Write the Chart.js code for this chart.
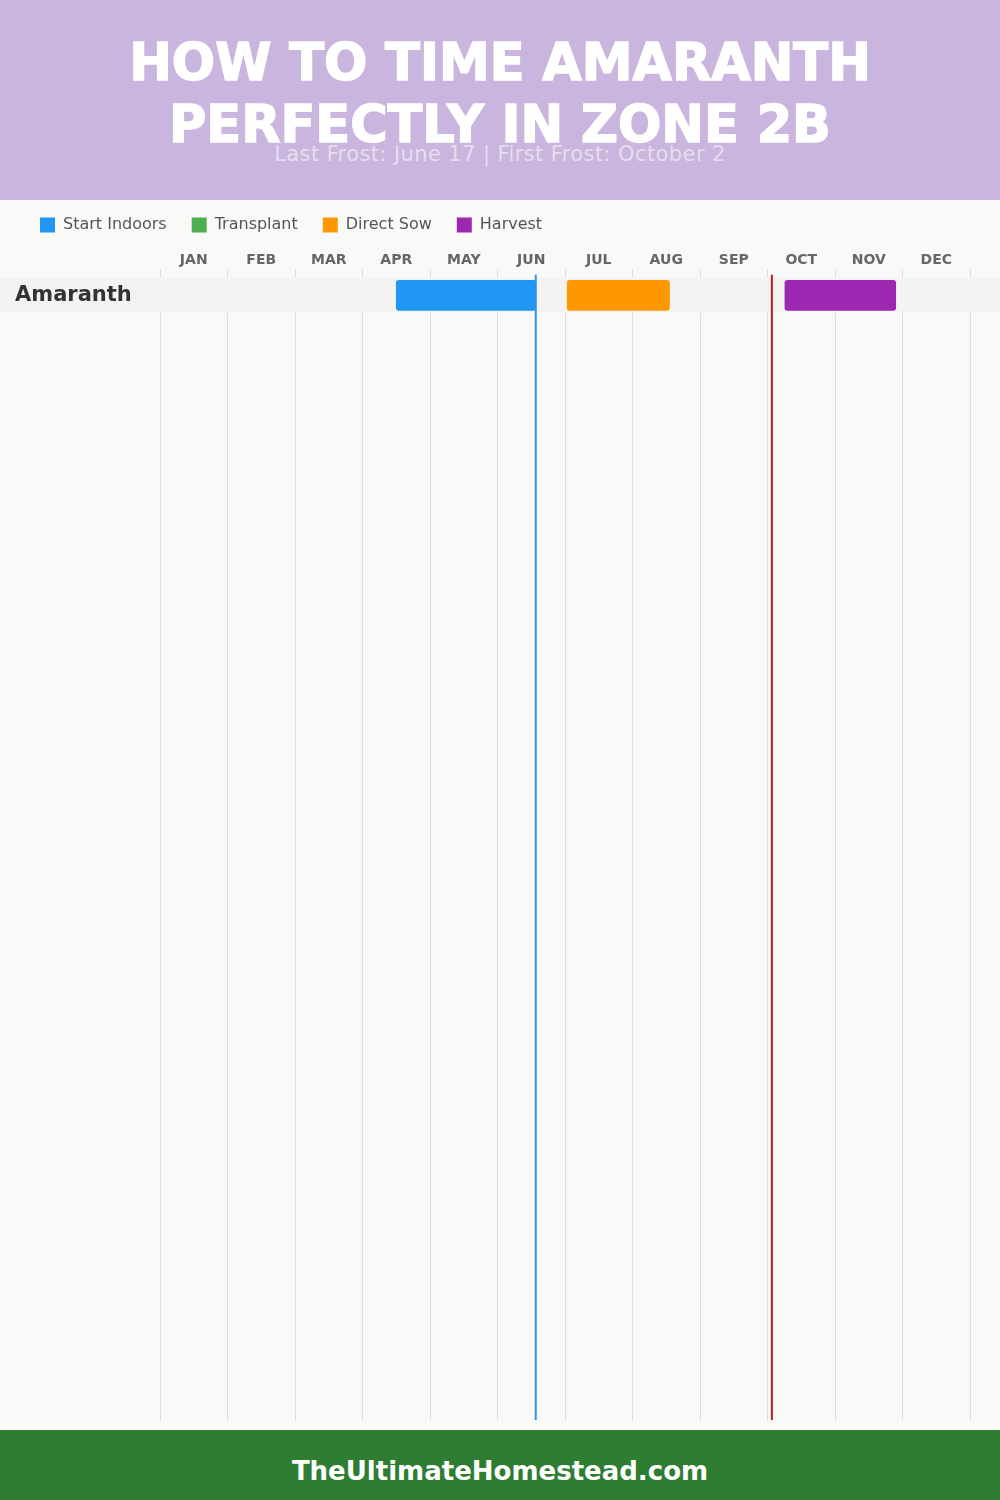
<!DOCTYPE html>
<html>
<head>
<meta charset="utf-8">
<script src="https://cdn.jsdelivr.net/npm/chart.js@4.4.1/dist/chart.umd.min.js"></script>
<style>
  html, body { margin: 0; padding: 0; }
  body { width: 1000px; height: 1500px; background: #F9F9F7; position: relative; overflow: hidden; font-family: "DejaVu Sans", sans-serif; }
  #header { position: absolute; left: 0; top: 0; width: 1000px; height: 200px; background: #C9B5DD; }
  #title { position: absolute; left: 0; top: 32px; width: 1000px; text-align: center; color: #fff; font-weight: bold; font-size: 51px; line-height: 62px; margin: 0; -webkit-text-stroke: 1.5px #fff; }
  #subtitle { position: absolute; left: 0; top: 141px; width: 1000px; text-align: center; color: rgba(255,255,255,0.55); font-size: 21px; letter-spacing: 0.4px; line-height: 26px; margin: 0; }
  #chartWrap { position: absolute; left: 0; top: 192px; width: 1000px; height: 1238px; }
  #footer { position: absolute; left: 0; top: 1430px; width: 1000px; height: 64px; padding-top: 6px; background: #2E7D32; color: #fff; font-weight: bold; font-size: 26px; line-height: 70px; text-align: center; }
</style>
</head>
<body>
<div id="header">
  <h1 id="title">HOW TO TIME AMARANTH<br>PERFECTLY IN ZONE 2B</h1>
  <p id="subtitle">Last Frost: June 17 | First Frost: October 2</p>
</div>
<div id="chartWrap"><canvas id="c" width="1000" height="1238"></canvas></div>
<div id="footer">TheUltimateHomestead.com</div>
<script>
// ---- data ----
const CROPS = ['Amaranth'];
const MONTHS = ['JAN','FEB','MAR','APR','MAY','JUN','JUL','AUG','SEP','OCT','NOV','DEC'];
const ACTIVITIES = ['Start Indoors', 'Transplant', 'Direct Sow', 'Harvest'];
const ACTIVITY_COLORS = ['#2196F3', '#4CAF50', '#FF9800', '#9C27B0'];
// [start, end] as MM-DD, one entry per crop (null = none)
const START_INDOORS = [['04-15', '06-17']];
const TRANSPLANT = [null];
const DIRECT_SOW = [['07-01', '08-17']];
const HARVEST = [['10-08', '11-27']];
const LAST_FROST = '06-17';
const FIRST_FROST = '10-02';

// ---- helpers ----
const DAYS_IN_MONTH = [31,28,31,30,31,30,31,31,30,31,30,31];
function toMonthPos(md) {
  const [m, d] = md.split('-').map(Number);
  return (m - 1) + d / DAYS_IN_MONTH[m - 1];
}
function rangesToData(ranges) {
  const out = [];
  ranges.forEach((r, i) => { if (r) out.push({ x: [toMonthPos(r[0]), toMonthPos(r[1])], y: i + 0.5 }); });
  return out;
}
const SERIES = [START_INDOORS, TRANSPLANT, DIRECT_SOW, HARVEST];

const datasets = ACTIVITIES.map((name, k) => ({
  label: name,
  data: rangesToData(SERIES[k]),
  backgroundColor: ACTIVITY_COLORS[k],
  borderColor: ACTIVITY_COLORS[k],
  borderWidth: 0,
  borderRadius: 3,
  borderSkipped: false,
  barThickness: 30,
  grouped: false
}));

const ROW_HEIGHT_UNITS = 32.63; // visible rows in the plot

const legendFit = {
  id: 'legendFit',
  beforeInit(chart) {
    if (!chart.legend) return;
    const orig = chart.legend.fit;
    chart.legend.fit = function () { orig.call(chart.legend); this.height += 8; };
  }
};

const rowBands = {
  id: 'rowBands',
  beforeDatasetsDraw(chart) {
    const y = chart.scales.y, ctx = chart.ctx;
    ctx.save();
    ctx.fillStyle = '#F3F3F1';
    CROPS.forEach((c, i) => {
      const t = y.getPixelForValue(i), b = y.getPixelForValue(i + 1);
      ctx.fillRect(0, t, chart.width, b - t);
    });
    ctx.restore();
  }
};

const frostLines = {
  id: 'frostLines',
  afterDatasetsDraw(chart) {
    const x = chart.scales.x, ctx = chart.ctx, a = chart.chartArea;
    ctx.save();
    ctx.lineWidth = 2;
    [[LAST_FROST, '#2196F3'], [FIRST_FROST, '#B71C1C']].forEach(([d, col]) => {
      const px = x.getPixelForValue(toMonthPos(d));
      ctx.strokeStyle = col;
      ctx.beginPath();
      ctx.moveTo(px, a.top - 3);
      ctx.lineTo(px, a.bottom);
      ctx.stroke();
    });
    ctx.restore();
  }
};

new Chart(document.getElementById('c'), {
  type: 'bar',
  data: { datasets },
  plugins: [legendFit, rowBands, frostLines],
  options: {
    responsive: false,
    animation: false,
    events: [],
    indexAxis: 'y',
    layout: { padding: { left: 15, right: 30, top: 0, bottom: 10 } },
    plugins: {
      tooltip: { enabled: false },
      legend: {
        position: 'top',
        align: 'start',
        labels: {
          boxWidth: 15, boxHeight: 15, padding: 25,
          color: '#555',
          font: { family: 'DejaVu Sans', size: 16 }
        }
      }
    },
    scales: {
      x: { type: 'linear', min: 0, max: 12, display: false },
      months: {
        type: 'category', axis: 'x', position: 'top', labels: MONTHS,
        offset: true,
        grid: { offset: true, color: '#DDDDDD', lineWidth: 1, tickLength: 8, drawOnChartArea: true },
        border: { display: false },
        ticks: { color: '#666', font: { family: 'DejaVu Sans', size: 14, weight: 'bold' }, padding: 1, maxRotation: 0 }
      },
      y: {
        type: 'linear', min: 0, max: ROW_HEIGHT_UNITS, reverse: true, offset: false,
        grid: { display: false },
        border: { display: false },
        afterBuildTicks: (s) => { s.ticks = CROPS.map((c, i) => ({ value: i + 0.5 })); },
        afterFit: (s) => { s.width = 145; s.paddingTop = 0; s.paddingBottom = 0; },
        ticks: {
          z: 1, crossAlign: 'far', color: '#333', autoSkip: false,
          font: { family: 'DejaVu Sans', size: 21, weight: 'bold' },
          callback: (v, i) => CROPS[i]
        }
      }
    }
  }
});
</script>
</body>
</html>
